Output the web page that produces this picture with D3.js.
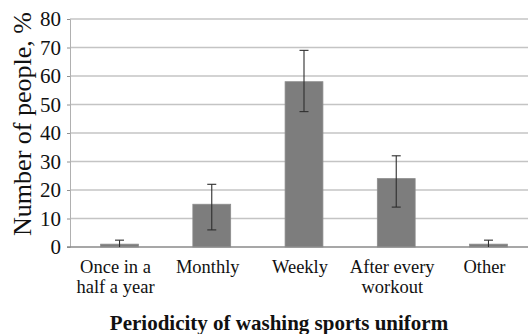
<!DOCTYPE html>
<html>
<head>
<meta charset="utf-8">
<script src="https://cdn.jsdelivr.net/npm/d3@7"></script>
<style>
  html, body { margin: 0; padding: 0; background: #fff; }
  svg { display: block; }
  svg text { font-family: "Liberation Serif", "Times New Roman", serif; }
</style>
</head>
<body>
<svg id="chart" width="528" height="334"></svg>
<script>
// Survey data: share of respondents by how often they wash their sports uniform
const categories = [["Once in a", "half a year"], ["Monthly"], ["Weekly"], ["After every", "workout"], ["Other"]];
const values = [1, 15, 58, 24, 1];
const errUpper = [2.4, 22, 69, 32, 2.4];
const errLower = [0, 6, 47.5, 14, 0];
const yTicks = [0, 10, 20, 30, 40, 50, 60, 70, 80];

const svg = d3.select("#chart");
const plot = { left: 70, right: 528, top: 19, bottom: 247 };

const keys = categories.map((c, i) => i);
const x = d3.scaleBand()
  .domain(keys)
  .range([73.4, 534.6])
  .paddingInner(0.59)
  .paddingOuter(0.295);

const y = d3.scaleLinear().domain([0, 80]).range([plot.bottom, plot.top]);

// horizontal gridlines
svg.append("g")
  .selectAll("line")
  .data(yTicks.filter(t => t > 0))
  .join("line")
  .attr("x1", plot.left).attr("x2", plot.right)
  .attr("y1", d => y(d)).attr("y2", d => y(d))
  .attr("stroke", "#c4c4c4").attr("stroke-width", 1.3);

// value axis
const yAxis = svg.append("g")
  .attr("transform", `translate(${plot.left},0)`)
  .call(d3.axisLeft(y).tickValues(yTicks).tickSize(3).tickPadding(6));
yAxis.attr("font-family", null);
yAxis.select(".domain").attr("stroke", "#b0b0b0");
yAxis.selectAll(".tick line").attr("stroke", "#909090");
yAxis.selectAll(".tick text")
  .style("font-family", "'Liberation Serif', serif")
  .attr("font-size", 21).attr("fill", "#111");

// bars
svg.append("g")
  .selectAll("rect")
  .data(values)
  .join("rect")
  .attr("x", (d, i) => x(i))
  .attr("width", x.bandwidth())
  .attr("y", d => y(d))
  .attr("height", d => y(0) - y(d))
  .attr("fill", "#7d7d7d")
  .attr("stroke", "#8c8c8c").attr("stroke-width", 0.8);

// category axis baseline
svg.append("line")
  .attr("x1", plot.left - 3).attr("x2", plot.right)
  .attr("y1", y(0)).attr("y2", y(0))
  .attr("stroke", "#8a8a8a").attr("stroke-width", 1.3);

// error bars
const capHalf = 4.5;
const eb = svg.append("g").attr("stroke", "#2e2e2e").attr("stroke-width", 1.1);
values.forEach((v, i) => {
  const cx = x(i) + x.bandwidth() / 2;
  eb.append("line").attr("x1", cx).attr("x2", cx)
    .attr("y1", y(errUpper[i])).attr("y2", y(errLower[i]));
  eb.append("line").attr("x1", cx - capHalf).attr("x2", cx + capHalf)
    .attr("y1", y(errUpper[i])).attr("y2", y(errUpper[i]));
  if (errLower[i] > 0) {
    eb.append("line").attr("x1", cx - capHalf).attr("x2", cx + capHalf)
      .attr("y1", y(errLower[i])).attr("y2", y(errLower[i]));
  }
});

// category labels
const lab = svg.append("g")
  .attr("font-size", 18.5).attr("fill", "#111").attr("text-anchor", "middle");
categories.forEach((lines, i) => {
  const t = lab.append("text")
    .attr("x", x(i) + x.bandwidth() / 2 - 4)
    .attr("y", 273);
  lines.forEach((line, j) => {
    t.append("tspan")
      .attr("x", x(i) + x.bandwidth() / 2 - 4)
      .attr("dy", j === 0 ? 0 : 20)
      .text(line);
  });
});

// axis titles
svg.append("text")
  .attr("transform", `translate(31,124) rotate(-90)`)
  .attr("text-anchor", "middle")
  .attr("font-size", 26).attr("fill", "#111")
  .text("Number of people, %");

svg.append("text")
  .attr("x", 279).attr("y", 330)
  .attr("text-anchor", "middle")
  .attr("font-size", 21).attr("font-weight", "bold").attr("fill", "#111")
  .text("Periodicity of washing sports uniform");
</script>
</body>
</html>
